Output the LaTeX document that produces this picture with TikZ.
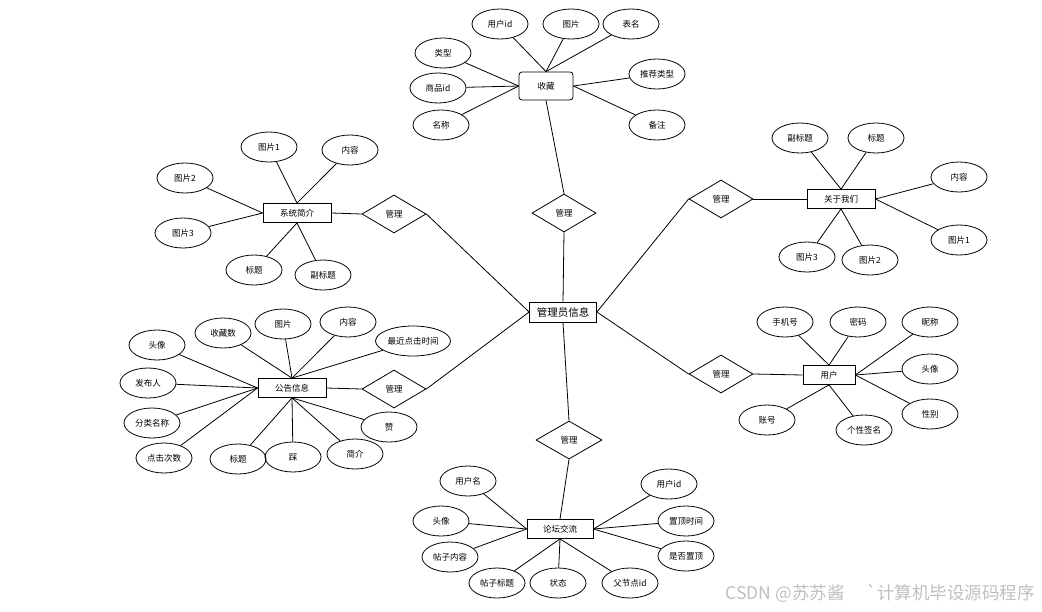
\documentclass[tikz,border=0pt]{standalone}
\usepackage{fontspec}
\newfontfamily\cjk{Noto Sans CJK SC}
\usetikzlibrary{shapes.geometric}

\begin{document}
\begin{tikzpicture}[x=1pt,y=-1pt,font=\cjk\fontsize{8.5}{9}\selectfont,line width=0.8pt]
	\useasboundingbox (0,0) rectangle (1042,611);
	\tikzset{attr/.style={ellipse,draw,minimum width=56pt,minimum height=30pt,inner sep=1pt},
		ent/.style={rectangle,draw,minimum width=68pt,minimum height=19pt,inner sep=1pt},
		rel/.style={diamond,draw,minimum width=64pt,minimum height=38pt,inner sep=0pt}}
	% entities and relations
	\node [ent,minimum width=67pt,minimum height=20pt,font=\cjk\fontsize{10.5}{11}\selectfont] (gly) at (563,312) {管理员信息};
	\node [ent,rounded corners=3pt,minimum width=54pt,minimum height=28pt] (sc) at (546,86) {收藏};
	\node [ent] (xt) at (297,213) {系统简介};
	\node [ent] (gy) at (841,199) {关于我们};
	\node [ent,minimum width=52pt] (yh) at (829,375) {用户};
	\node [ent] (gg) at (292,388) {公告信息};
	\node [ent,minimum width=66pt] (lt) at (560,529) {论坛交流};
	\node [rel] (m1) at (564,213) {管理};
	\node [rel] (m2) at (394,214) {管理};
	\node [rel] (m3) at (721,199) {管理};
	\node [rel] (m4) at (721,374) {管理};
	\node [rel] (m5) at (394,389) {管理};
	\node [rel,minimum width=66pt] (m6) at (569,440) {管理};
	% attributes
	\begin{scope}[every node/.style={attr}]
	\node (sc1) at (500,24) {用户id};
	\node (sc2) at (571,24) {图片};
	\node (sc3) at (631,24) {表名};
	\node (sc4) at (443,53) {类型};
	\node (sc5) at (438,88) {商品id};
	\node (sc6) at (441,125) {名称};
	\node (sc7) at (657,74) {推荐类型};
	\node (sc8) at (657,125) {备注};
	\node (xt1) at (269,147) {图片1};
	\node (xt2) at (350,150) {内容};
	\node (xt3) at (185,178) {图片2};
	\node (xt4) at (183,233) {图片3};
	\node (xt5) at (254,270) {标题};
	\node (xt6) at (323,275) {副标题};
	\node (gy1) at (800,138) {副标题};
	\node (gy2) at (876,138) {标题};
	\node (gy3) at (959,177) {内容};
	\node (gy4) at (959,240) {图片1};
	\node (gy5) at (807,257) {图片3};
	\node (gy6) at (870,260) {图片2};
	\node (yh1) at (785,322) {手机号};
	\node (yh2) at (858,322) {密码};
	\node (yh3) at (930,322) {昵称};
	\node (yh4) at (930,369) {头像};
	\node (yh5) at (930,414) {性别};
	\node (yh6) at (767,420) {账号};
	\node (yh7) at (864,430) {个性签名};
	\node (gg1) at (157,345) {头像};
	\node (gg2) at (223,333) {收藏数};
	\node (gg3) at (283,324) {图片};
	\node (gg4) at (348,322) {内容};
	\node (gg5) at (413,341) {最近点击时间};
	\node (gg6) at (148,383) {发布人};
	\node (gg7) at (152,423) {分类名称};
	\node (gg8) at (164,458) {点击次数};
	\node (gg9) at (238,459) {标题};
	\node (gg10) at (293,457) {踩};
	\node (gg11) at (355,454) {简介};
	\node (gg12) at (389,427) {赞};
	\node (lt1) at (468,481) {用户名};
	\node (lt2) at (441,521) {头像};
	\node (lt3) at (450,557) {帖子内容};
	\node (lt4) at (497,583) {帖子标题};
	\node (lt5) at (558,583) {状态};
	\node (lt6) at (630,583) {父节点id};
	\node (lt7) at (669,484) {用户id};
	\node (lt8) at (686,521) {置顶时间};
	\node (lt9) at (686,556) {是否置顶};
	\end{scope}
	% connectors
	\draw (sc.south) -- (m1.north);
	\draw (m1.south) -- (gly.north);
	\draw (xt.east) -- (m2.west);
	\draw (m2.east) -- (gly.west);
	\draw (gy.west) -- (m3.east);
	\draw (m3.west) -- (gly.east);
	\draw (yh.west) -- (m4.east);
	\draw (m4.west) -- (gly.east);
	\draw (gg.east) -- (m5.west);
	\draw (m5.east) -- (gly.west);
	\draw (gly.south) -- (m6.north);
	\draw (m6.south) -- (lt.north);
	\foreach \a in {sc1,sc2,sc3} \draw (sc.north) -- (\a);
	\foreach \a in {sc4,sc5,sc6} \draw (sc.west) -- (\a);
	\foreach \a in {sc7,sc8} \draw (sc.east) -- (\a);
	\foreach \a in {xt1,xt2} \draw (xt.north) -- (\a);
	\foreach \a in {xt3,xt4} \draw (xt.west) -- (\a);
	\foreach \a in {xt5,xt6} \draw (xt.south) -- (\a);
	\foreach \a in {gy1,gy2} \draw (gy.north) -- (\a);
	\foreach \a in {gy3,gy4} \draw (gy.east) -- (\a);
	\foreach \a in {gy5,gy6} \draw (gy.south) -- (\a);
	\foreach \a in {yh1,yh2} \draw (yh.north) -- (\a);
	\foreach \a in {yh3,yh4,yh5} \draw (yh.east) -- (\a);
	\foreach \a in {yh6,yh7} \draw (yh.south) -- (\a);
	\foreach \a in {gg2,gg3,gg4,gg5} \draw (gg.north) -- (\a);
	\foreach \a in {gg1,gg6,gg7,gg8} \draw (gg.west) -- (\a);
	\foreach \a in {gg9,gg10,gg11,gg12} \draw (gg.south) -- (\a);
	\foreach \a in {lt1,lt2,lt3} \draw (lt.west) -- (\a);
	\foreach \a in {lt4,lt5,lt6} \draw (lt.south) -- (\a);
	\foreach \a in {lt7,lt8,lt9} \draw (lt.east) -- (\a);
	\node [text=black!25,font=\cjk\fontsize{17.5}{18}\selectfont,anchor=east,inner sep=0pt] (wm) at (1035,593) {CSDN @苏苏酱\hspace{22pt}`计算机毕设源码程序};
\end{tikzpicture}
\end{document}
